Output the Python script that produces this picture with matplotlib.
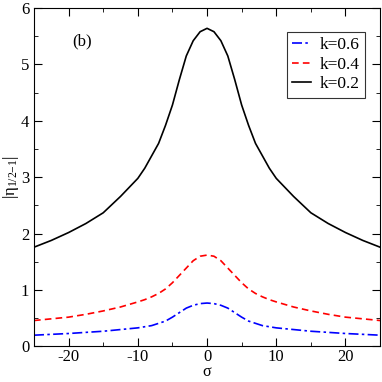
import matplotlib
matplotlib.use('Agg')
import matplotlib.pyplot as plt
from matplotlib.ticker import MultipleLocator

plt.rcParams['font.family'] = ['Liberation Serif', 'DejaVu Serif']
plt.rcParams['mathtext.fontset'] = 'custom'
plt.rcParams['mathtext.rm'] = 'Liberation Serif'
plt.rcParams['mathtext.it'] = 'Liberation Serif'

# values
sigma = [-25, -22.5, -20, -17.5, -15, -12.5, -10, -9, -8, -7, -6, -5, -4, -3, -2, -1, 0,
         1, 2, 3, 4, 5, 6, 7, 8, 9, 10, 12.5, 15, 17.5, 20, 22.5, 25]
eta_k06 = [0.20, 0.215, 0.23, 0.25, 0.27, 0.30, 0.33, 0.35, 0.37, 0.41, 0.45, 0.52, 0.60, 0.68, 0.73, 0.76, 0.77,
           0.76, 0.73, 0.68, 0.60, 0.52, 0.45, 0.41, 0.37, 0.35, 0.33, 0.30, 0.27, 0.25, 0.23, 0.215, 0.20]
eta_k04 = [0.46, 0.49, 0.52, 0.57, 0.63, 0.70, 0.79, 0.83, 0.88, 0.94, 1.02, 1.13, 1.26, 1.39, 1.52, 1.60, 1.62,
           1.60, 1.52, 1.39, 1.26, 1.13, 1.02, 0.94, 0.88, 0.83, 0.79, 0.70, 0.63, 0.57, 0.52, 0.49, 0.46]
eta_k02 = [1.76, 1.88, 2.02, 2.18, 2.37, 2.66, 2.98, 3.16, 3.38, 3.60, 3.92, 4.28, 4.73, 5.15, 5.42, 5.58, 5.64,
           5.58, 5.42, 5.15, 4.73, 4.28, 3.92, 3.60, 3.38, 3.16, 2.98, 2.66, 2.37, 2.18, 2.02, 1.88, 1.76]

fig = plt.figure(figsize=(3.82, 3.82), dpi=100)
ax = fig.add_axes([0.089, 0.093, 0.906, 0.886])

ax.plot(sigma, eta_k06, color='blue', ls=(0, (6, 2, 1.5, 2)), lw=1.2, label='k=0.6')
ax.plot(sigma, eta_k04, color='red', ls=(0, (4, 2.5)), lw=1.2, label='k=0.4')
ax.plot(sigma, eta_k02, color='black', ls='-', lw=1.2, label='k=0.2')

ax.set_xlim(-25, 25)
ax.set_ylim(0, 6)
ax.xaxis.set_major_locator(MultipleLocator(10))
ax.xaxis.set_minor_locator(MultipleLocator(5))
ax.yaxis.set_major_locator(MultipleLocator(1))
ax.yaxis.set_minor_locator(MultipleLocator(0.5))
ax.tick_params(which='both', direction='in', top=True, right=True, labelsize=12)
ax.tick_params(which='major', length=6)
ax.tick_params(which='minor', length=3)
ax.tick_params(axis='x', pad=2)
ax.set_xticks([-20, -10, 0, 10, 20])
ax.set_xticklabels(['-20', '-10', '0', '10', '20'])

ax.set_xlabel('σ', fontsize=11.5, va='top')
ax.xaxis.set_label_coords(0.5, -0.052)
ax.set_ylabel(r'$|\eta_{1/2{-}1}|$', fontsize=12, labelpad=0)
ax.text(-18, 5.4, '(b)', fontsize=12, ha='center', va='center')

leg = ax.legend(loc='upper right', bbox_to_anchor=(0.957, 0.93), fontsize=12.5,
                frameon=True, fancybox=False, handlelength=1.1,
                borderpad=0.3, labelspacing=0.2, handletextpad=0.5,
                borderaxespad=0)
leg.get_frame().set_edgecolor('black')
leg.get_frame().set_linewidth(0.8)

fig.savefig('out.png', dpi=100)
